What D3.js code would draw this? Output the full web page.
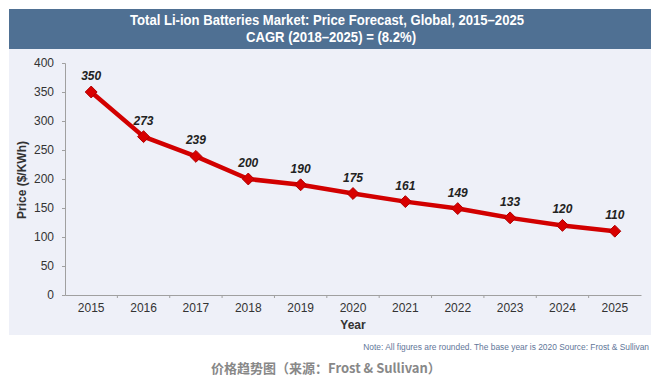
<!DOCTYPE html>
<html>
<head>
<meta charset="utf-8">
<script src="https://cdn.jsdelivr.net/npm/d3@7"></script>
<style>
  body { margin: 0; background: #fff; }
  svg { display: block; font-family: "Liberation Sans", Arial, sans-serif; }
</style>
</head>
<body>
<div id="chart"></div>
<script>
// chart data
var years = ["2015", "2016", "2017", "2018", "2019", "2020", "2021", "2022", "2023", "2024", "2025"];
var prices = [350, 273, 239, 200, 190, 175, 161, 149, 133, 120, 110];
var yTicks = [0, 50, 100, 150, 200, 250, 300, 350, 400];

var width = 664, height = 388;

var svg = d3.select("#chart")
  .append("svg")
  .attr("width", width)
  .attr("height", height);

// header band + plot background
svg.append("rect")
  .attr("x", 9).attr("y", 9).attr("width", 642).attr("height", 40)
  .attr("fill", "#4f7093");
svg.append("rect")
  .attr("x", 9).attr("y", 49).attr("width", 642).attr("height", 286)
  .attr("fill", "#eef0f8");

// no narrow font installed, so squeeze the titles a bit
svg.append("text")
  .attr("x", 327).attr("y", 25)
  .attr("text-anchor", "middle")
  .attr("fill", "#fff")
  .attr("font-weight", "bold")
  .attr("font-size", 14)
  .attr("textLength", 394)
  .attr("lengthAdjust", "spacingAndGlyphs")
  .text("Total Li-ion Batteries Market: Price Forecast, Global, 2015–2025");
svg.append("text")
  .attr("x", 331).attr("y", 42)
  .attr("text-anchor", "middle")
  .attr("fill", "#fff")
  .attr("font-weight", "bold")
  .attr("font-size", 14)
  .attr("textLength", 170)
  .attr("lengthAdjust", "spacingAndGlyphs")
  .text("CAGR (2018–2025) = (8.2%)");

// scales
var x = d3.scaleBand().domain(years).range([65, 641]);
var y = d3.scaleLinear().domain([0, 400]).range([295, 63]);

// y axis
var yAxis = svg.append("g")
  .attr("transform", "translate(65,0)")
  .call(d3.axisLeft(y).tickValues(yTicks).tickSize(3).tickPadding(8));
yAxis.select(".domain").attr("stroke", "#a0a0a0");
yAxis.selectAll(".tick line").attr("stroke", "#a0a0a0");
yAxis.selectAll("text")
  .attr("font-size", 12)
  .attr("fill", "#333")
  .attr("font-family", "'Liberation Sans', Arial, sans-serif");

// x axis - ticks sit between the years
var xAxis = svg.append("g")
  .attr("transform", "translate(0,295)")
  .call(d3.axisBottom(x).tickSize(0).tickPadding(8));
xAxis.select(".domain").attr("stroke", "#a0a0a0");
xAxis.selectAll("text")
  .attr("font-size", 12)
  .attr("fill", "#333")
  .attr("font-family", "'Liberation Sans', Arial, sans-serif");
xAxis.selectAll(".sep")
  .data(years.slice(1))
  .enter().append("line")
  .attr("class", "sep")
  .attr("x1", function(d) { return x(d); })
  .attr("x2", function(d) { return x(d); })
  .attr("y1", 0).attr("y2", 3)
  .attr("stroke", "#a0a0a0");

// axis titles
svg.append("text")
  .attr("x", x("2020") + x.bandwidth() / 2).attr("y", 329)
  .attr("text-anchor", "middle")
  .attr("font-weight", "bold")
  .attr("font-size", 12)
  .attr("fill", "#333")
  .text("Year");
svg.append("text")
  .attr("transform", "translate(26,180)rotate(-90)")
  .attr("text-anchor", "middle")
  .attr("font-weight", "bold")
  .attr("font-size", 12)
  .attr("fill", "#333")
  .text("Price ($/KWh)");

// line
var line = d3.line()
  .x(function(d, i) { return x(years[i]) + x.bandwidth() / 2; })
  .y(function(d) { return y(d); });

svg.append("path")
  .datum(prices)
  .attr("d", line)
  .attr("fill", "none")
  .attr("stroke", "#d20000")
  .attr("stroke-width", 4.5)
  .attr("stroke-linejoin", "round");

// diamond markers
svg.selectAll(".pt")
  .data(prices)
  .enter().append("path")
  .attr("class", "pt")
  .attr("d", d3.symbol().type(d3.symbolDiamond2).size(90))
  .attr("transform", function(d, i) {
    return "translate(" + (x(years[i]) + x.bandwidth() / 2) + "," + y(d) + ")";
  })
  .attr("fill", "#d80000")
  .attr("stroke", "#b00000")
  .attr("stroke-width", 1);

// value labels
svg.selectAll(".val")
  .data(prices)
  .enter().append("text")
  .attr("class", "val")
  .attr("x", function(d, i) { return x(years[i]) + x.bandwidth() / 2; })
  .attr("y", function(d) { return y(d) - 12; })
  .attr("text-anchor", "middle")
  .attr("font-weight", "bold")
  .attr("font-style", "italic")
  .attr("font-size", 12)
  .attr("fill", "#222")
  .text(function(d) { return d; });

// note + caption
svg.append("text")
  .attr("x", 649).attr("y", 350)
  .attr("text-anchor", "end")
  .attr("font-size", 8.4)
  .attr("fill", "#5f7699")
  .text("Note: All figures are rounded. The base year is 2020 Source: Frost & Sullivan");

svg.append("text")
  .attr("x", 326).attr("y", 373)
  .attr("text-anchor", "middle")
  .attr("font-family", "'Noto Sans CJK SC', 'Noto Sans', sans-serif")
  .attr("font-weight", "bold")
  .attr("font-size", 13)
  .attr("fill", "#888")
  .text("价格趋势图（来源：Frost & Sullivan）");
</script>
</body>
</html>
